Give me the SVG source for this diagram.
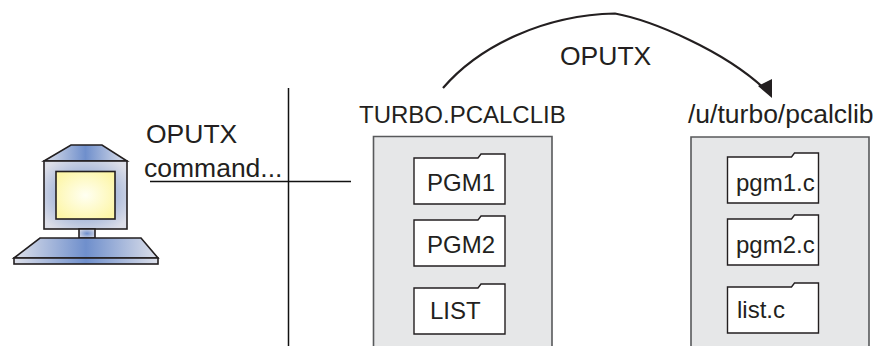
<svg xmlns="http://www.w3.org/2000/svg" width="879" height="346" viewBox="0 0 879 346">
<style>
text{font-family:"Liberation Sans",Arial,sans-serif;fill:#231f20;font-size:24px}
.big{font-size:26.500px}
.l{fill:none;stroke:#111;stroke-width:1.5}
.box{fill:#e6e7e8;stroke:#58595b;stroke-width:1.6}
.f{fill:#fff;stroke:#231f20;stroke-width:1.4}
.c{stroke:#231f20;stroke-width:1.6}
</style>
<defs>
<marker id="arr" markerUnits="userSpaceOnUse" markerWidth="16" markerHeight="21" refX="10" refY="13" orient="0"><path d="M0 7L14 0V19Z" fill="#231f20"/></marker>
<radialGradient id="blue" cx="50%" cy="50%" r="62%"><stop offset="0" stop-color="#6f8fcc"/><stop offset="1" stop-color="#dcdee8"/></radialGradient>
<radialGradient id="scr" cx="50%" cy="50%" r="60%"><stop offset="0" stop-color="#fffff2"/><stop offset="1" stop-color="#fdf6a8"/></radialGradient>
<linearGradient id="bar"><stop offset="0" stop-color="#dde0ea"/><stop offset=".5" stop-color="#6f8fcc"/><stop offset="1" stop-color="#dde0ea"/></linearGradient>
<path id="folder" d="M0 4H64L67 0H91V50H0Z"/>
</defs>
<g id="computer">
<path class="c" fill="url(#bar)" d="M44 161L71 145H102L127 161Z"/>
<rect class="c" x="44" y="161" width="83" height="68" fill="url(#blue)"/>
<rect class="c" x="56" y="171.500" width="59" height="47.500" fill="url(#scr)"/>
<rect class="c" x="79" y="229" width="16" height="9" fill="url(#blue)"/>
<path class="c" fill="url(#bar)" d="M14 258L40 238H141L158 258Z"/>
<rect class="c" x="14" y="258" width="144" height="6" fill="url(#bar)"/>
</g>
<g id="connectors">
<path class="l" d="M288.500 88V346"/>
<path class="l" d="M150 181.500H351"/>
<path d="M443 88C480 45 545 15 615 13.500C650 20 725 50 768 92" fill="none" stroke="#231f20" stroke-width="2.200" marker-end="url(#arr)"/>
</g>
<g id="label-command">
<text class="big" x="146" y="143">OPUTX</text>
<text class="big" x="144" y="177">command...</text>
</g>
<text id="label-oputx" class="big" x="560" y="65">OPUTX</text>
<g id="library">
<text x="359" y="123">TURBO.PCALCLIB</text>
<path class="box" d="M373.500 346V136.500H552V346"/>
</g>
<g id="pgm1"><use href="#folder" class="f" x="414" y="154"/><text x="427" y="191">PGM1</text></g>
<g id="pgm2"><use href="#folder" class="f" x="414" y="216"/><text x="427" y="253">PGM2</text></g>
<g id="list"><use href="#folder" class="f" x="414" y="284"/><text x="430" y="319">LIST</text></g>
<g id="directory">
<text class="big" x="688" y="123">/u/turbo/pcalclib</text>
<path class="box" d="M691 346V137H869V346"/>
</g>
<g id="pgm1c"><use href="#folder" class="f" x="727.500" y="153"/><text x="736" y="191">pgm1.c</text></g>
<g id="pgm2c"><use href="#folder" class="f" x="727.500" y="215"/><text x="736" y="253">pgm2.c</text></g>
<g id="listc"><use href="#folder" class="f" x="727.500" y="283"/><text x="737" y="318">list.c</text></g>
</svg>
